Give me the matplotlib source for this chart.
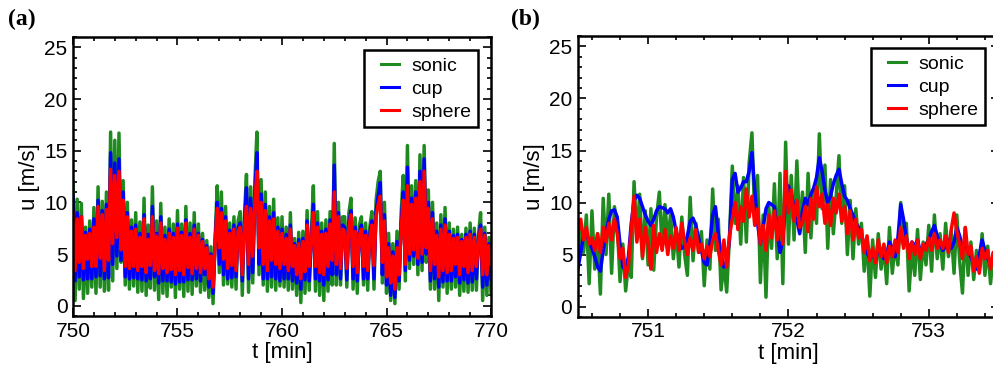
import numpy as np
import matplotlib
matplotlib.use("Agg")
import matplotlib.pyplot as plt
from matplotlib.ticker import MultipleLocator

# ---- panel (a): 750-770 min, one sample every 0.1 min ----
t_a_start, t_a_step = 750.0, 0.1
sonic_a = [
    12.0, 0.5, 10.3, 1.6, 9.9, 0.7, 7.6, 1.2, 8.2, 1.8,
    9.5, 1.2, 11.5, 1.8, 10.1, 1.4, 11.0, 1.5, 16.8, 2.4,
    16.0, 3.6, 16.7, 4.2, 12.1, 2.0, 10.0, 1.6, 8.3, 1.9,
    9.0, 1.3, 8.1, 1.4, 10.4, 1.0, 7.8, 1.7, 11.5, 1.5,
    8.2, 0.6, 9.9, 1.2, 7.6, 0.9, 8.4, 1.8, 7.9, 0.8,
    9.2, 1.6, 7.9, 0.9, 9.6, 1.4, 8.0, 1.1, 9.0, 1.9,
    7.9, 1.3, 7.0, 1.5, 6.3, 0.8, 5.7, 0.2, 6.5, 11.6,
    3.2, 11.0, 2.0, 9.6, 2.1, 8.0, 1.8, 8.6, 1.6, 8.2,
    9.1, 1.0, 8.6, 12.7, 1.3, 11.5, 2.2, 12.0, 16.8, 3.0,
    12.2, 2.0, 11.0, 1.4, 9.6, 1.8, 10.3, 1.5, 8.5, 1.9,
    8.6, 1.8, 7.6, 1.5, 9.0, 1.6, 6.5, 1.0, 7.1, 0.3,
    7.2, 1.2, 9.2, 1.5, 6.8, 11.6, 1.4, 9.1, 1.0, 8.0,
    0.5, 8.3, 1.4, 9.1, 2.0, 15.7, 2.0, 10.0, 2.0, 8.6,
    8.6, 1.8, 9.0, 10.4, 1.6, 8.5, 1.2, 7.8, 8.6, 2.0,
    8.0, 1.5, 7.6, 9.1, 1.6, 10.2, 12.0, 13.0, 2.2, 10.0,
    1.2, 7.0, 0.5, 6.0, 0.2, 7.2, 1.6, 9.0, 12.6, 2.4,
    15.5, 3.6, 11.6, 4.0, 12.1, 3.0, 14.6, 3.4, 15.5, 4.2,
    11.2, 1.6, 10.0, 1.6, 8.0, 0.5, 8.8, 1.8, 9.5, 1.2,
    8.0, 1.6, 7.4, 1.8, 7.6, 1.0, 6.9, 1.4, 7.5, 1.3,
    8.0, 1.5, 7.5, 1.5, 6.9, 9.0, 0.5, 7.6, 1.0, 6.6,
    1.2,
]
cup_a = [
    10.6, 2.4, 9.0, 2.8, 8.6, 2.5, 7.1, 2.6, 7.4, 2.6,
    8.4, 2.8, 10.2, 2.9, 9.2, 2.6, 9.8, 2.7, 14.8, 4.0,
    13.8, 4.8, 14.2, 4.4, 11.0, 2.8, 9.0, 2.6, 7.6, 2.7,
    7.8, 2.6, 7.0, 2.5, 8.8, 2.4, 6.9, 2.6, 9.6, 2.8,
    7.0, 2.2, 8.6, 2.4, 6.8, 2.4, 7.4, 2.3, 7.0, 2.1,
    7.9, 2.3, 7.1, 2.3, 8.3, 2.5, 7.0, 2.5, 7.8, 2.6,
    7.0, 2.4, 6.4, 3.0, 5.8, 1.8, 5.0, 1.2, 6.2, 10.0,
    4.0, 9.4, 3.0, 8.6, 2.6, 7.3, 2.7, 7.8, 2.8, 7.5,
    8.0, 2.4, 7.9, 11.4, 2.6, 10.4, 3.2, 10.8, 14.8, 4.0,
    10.8, 2.6, 9.8, 2.6, 8.6, 2.8, 9.0, 2.6, 7.6, 2.4,
    7.4, 2.6, 6.9, 2.6, 7.8, 2.4, 6.0, 2.2, 6.4, 1.6,
    6.5, 2.5, 8.2, 2.4, 6.2, 9.8, 2.6, 8.0, 2.4, 7.2,
    2.0, 7.4, 2.5, 8.3, 3.0, 13.6, 3.0, 9.0, 2.6, 7.8,
    7.6, 2.5, 8.0, 9.2, 2.6, 7.6, 2.4, 7.0, 7.8, 2.6,
    7.2, 2.6, 6.9, 8.2, 2.6, 9.2, 10.6, 11.9, 3.0, 8.8,
    2.0, 6.0, 1.0, 5.2, 0.8, 6.2, 2.4, 8.0, 11.0, 3.4,
    13.4, 4.4, 10.4, 4.8, 11.0, 4.0, 13.0, 4.2, 14.2, 5.0,
    10.0, 2.4, 9.0, 2.6, 7.2, 1.8, 7.8, 2.3, 8.4, 2.4,
    7.2, 2.4, 6.8, 2.8, 6.9, 2.2, 6.4, 2.5, 6.9, 2.2,
    7.2, 2.3, 6.9, 2.6, 6.4, 7.8, 1.8, 7.0, 2.0, 6.0,
    2.6,
]
sphere_a = [
    9.0, 3.4, 8.4, 4.2, 8.6, 3.6, 6.8, 4.5, 7.0, 3.8,
    7.6, 3.8, 9.6, 4.6, 8.8, 3.4, 9.3, 4.4, 13.2, 6.0,
    12.6, 6.6, 13.0, 5.4, 10.2, 3.8, 8.6, 3.6, 7.2, 3.8,
    7.4, 3.4, 6.6, 3.8, 8.4, 3.2, 6.4, 3.9, 8.6, 3.4,
    6.7, 3.1, 8.0, 3.6, 6.4, 3.2, 7.0, 3.5, 6.6, 3.0,
    7.5, 3.4, 6.8, 3.0, 8.0, 3.7, 6.6, 3.1, 7.4, 3.6,
    6.8, 3.2, 6.2, 3.6, 5.6, 2.6, 4.8, 1.8, 6.0, 9.4,
    5.6, 9.0, 4.5, 8.2, 3.6, 7.0, 3.9, 7.4, 3.4, 7.2,
    7.6, 3.0, 7.5, 9.6, 4.0, 9.4, 4.8, 10.0, 13.0, 5.6,
    10.0, 4.0, 9.2, 3.4, 8.2, 4.4, 8.4, 4.0, 7.2, 3.6,
    7.0, 4.0, 6.5, 3.4, 7.4, 3.8, 5.8, 3.0, 6.0, 2.6,
    6.2, 3.3, 7.8, 3.8, 6.0, 9.0, 3.8, 7.6, 3.2, 6.9,
    3.0, 7.0, 3.8, 7.9, 4.4, 11.0, 4.0, 8.6, 3.6, 7.4,
    7.2, 3.6, 7.6, 8.8, 3.8, 7.2, 3.2, 6.8, 7.4, 3.8,
    6.8, 3.4, 6.6, 7.8, 3.9, 8.6, 9.8, 10.6, 4.2, 8.2,
    2.8, 5.6, 2.2, 4.8, 1.6, 5.6, 3.0, 7.4, 10.2, 4.0,
    11.6, 5.0, 9.8, 5.4, 10.4, 4.6, 12.0, 5.0, 13.0, 5.6,
    9.4, 3.4, 8.4, 4.0, 6.8, 2.8, 7.4, 3.4, 7.8, 3.2,
    6.9, 3.4, 6.5, 4.0, 6.6, 3.0, 6.2, 3.8, 6.6, 3.2,
    6.9, 3.4, 6.6, 3.8, 6.2, 7.4, 3.0, 6.8, 3.0, 5.8,
    4.0,
]

# ---- panel (b): 750.5-753.5 min, one sample every 0.02 min ----
t_b_start, t_b_step = 750.5, 0.02
sonic_b = [
    4.0, 7.8, 5.2, 8.8, 2.2,
    9.2, 3.6, 7.0, 1.2, 10.4,
    5.0, 10.8, 3.2, 9.6, 8.0,
    2.4, 6.0, 1.5, 4.2, 2.8,
    12.0, 6.5, 10.8, 4.6, 9.2,
    4.0, 9.4, 3.5, 8.6, 11.0,
    5.6, 9.8, 6.4, 8.8, 4.6,
    7.4, 3.8, 8.6, 5.0, 3.0,
    10.5, 4.4, 8.0, 5.2, 7.2,
    2.0, 6.4, 3.6, 11.3, 5.4,
    8.4, 1.6, 4.2, 1.4, 6.8,
    13.5, 8.0, 11.6, 6.0, 12.4,
    6.2, 13.8, 16.7, 8.4, 12.6,
    2.3, 8.8, 0.9, 9.6, 5.6,
    11.8, 4.6, 12.8, 2.2, 15.8,
    6.0, 12.6, 6.4, 14.0, 7.2,
    11.0, 5.2, 12.8, 6.6, 11.4,
    8.0, 16.6, 9.4, 13.6, 5.6,
    12.2, 7.0, 10.6, 14.5, 8.0,
    11.6, 5.0, 10.2, 4.6, 9.4,
    6.0, 8.0, 3.4, 6.6, 1.0,
    6.4, 2.8, 7.0, 3.6, 5.8,
    2.2, 7.6, 3.2, 6.0, 4.0,
    10.0, 6.4, 8.0, 1.5, 5.8,
    3.0, 7.4, 2.6, 6.2, 4.0,
    7.8, 3.4, 8.8, 4.6, 7.0,
    3.6, 8.0, 4.8, 7.2, 3.2,
    8.8, 4.4, 1.3, 7.6, 3.0,
    6.2, 2.6, 5.4, 3.4, 7.0,
    3.0, 5.8, 2.2, 5.2, 3.8,
    4.4,
]
cup_b = [
    3.6, 5.2, 6.8, 7.0, 6.2,
    5.6, 4.8, 3.8, 3.4, 5.4,
    7.2, 8.4, 9.2, 9.3, 8.6,
    6.0, 3.8, 3.6, 4.8, 8.0,
    10.2, 10.7, 10.4, 9.6, 8.8,
    8.2, 7.8, 8.4, 9.2, 9.6,
    9.5, 9.4, 9.0, 9.4, 8.6,
    7.2, 6.2, 5.6, 5.8, 6.8,
    8.2, 8.5, 7.8, 6.6, 5.4,
    4.2, 4.0, 6.0, 8.8, 9.6,
    7.0, 5.0, 3.8, 4.2, 6.4,
    12.2, 12.8, 11.0, 11.4, 12.0,
    12.0, 13.0, 14.8, 11.2, 8.0,
    6.0, 7.6, 9.4, 10.0, 9.8,
    9.6, 7.2, 5.2, 6.4, 10.6,
    11.6, 10.8, 9.6, 8.4, 7.0,
    9.2, 10.4, 9.8, 10.8, 11.4,
    12.4, 14.3, 13.0, 11.2, 10.0,
    10.6, 11.8, 12.6, 13.2, 11.8,
    10.6, 10.2, 9.4, 8.8, 8.0,
    7.6, 6.8, 6.0, 5.2, 4.6,
    5.0, 4.4, 5.6, 5.2, 4.6,
    5.0, 6.2, 5.6, 4.8, 6.6,
    9.8, 8.4, 6.6, 5.4, 6.2,
    5.8, 6.4, 5.2, 5.6, 6.0,
    6.4, 7.2, 7.8, 6.8, 6.0,
    5.4, 5.8, 6.4, 5.6, 6.2,
    7.6, 6.8, 5.6, 6.2, 5.2,
    4.8, 4.0, 3.6, 5.0, 6.4,
    5.4, 4.6, 4.2, 4.8, 4.6,
    4.2,
]
sphere_b = [
    7.2, 8.4, 6.4, 7.6, 6.0,
    6.6, 5.4, 7.0, 5.2, 7.6,
    6.2, 8.0, 6.4, 8.4, 7.0,
    4.6, 5.6, 2.8, 4.0, 7.4,
    10.6, 6.2, 8.4, 4.8, 7.6,
    6.0, 3.6, 7.8, 5.2, 7.0,
    5.4, 7.4, 5.0, 6.8, 5.6,
    7.6, 5.4, 8.0, 6.2, 5.0,
    6.6, 5.4, 7.4, 5.2, 6.0,
    4.6, 5.8, 4.8, 6.4, 7.0,
    5.4, 4.0, 6.4, 3.8, 6.8,
    8.4, 10.0, 7.4, 9.6, 8.2,
    11.3, 8.6, 10.6, 7.8, 9.4,
    6.0, 7.8, 5.4, 8.8, 6.6,
    9.2, 6.4, 8.6, 6.0, 13.0,
    9.0, 11.2, 8.2, 10.2, 7.6,
    8.0, 9.6, 7.2, 10.4, 8.4,
    11.5, 9.6, 10.8, 8.0, 9.8,
    7.8, 10.4, 9.0, 10.8, 8.2,
    9.6, 7.0, 9.2, 6.4, 8.4,
    6.6, 7.4, 5.2, 6.8, 4.4,
    5.6, 4.2, 6.4, 4.8, 6.0,
    4.2, 5.8, 4.8, 6.4, 5.2,
    7.6, 5.6, 6.8, 4.6, 6.2,
    5.0, 6.4, 4.6, 6.0, 5.4,
    6.6, 5.4, 7.0, 5.6, 6.4,
    5.6, 6.8, 5.2, 7.4, 9.0,
    7.2, 6.0, 4.6, 7.6, 5.0,
    5.8, 3.4, 4.8, 3.2, 5.6,
    4.6, 5.4, 3.6, 5.2, 4.8,
    5.0,
]

series_names = ["sonic", "cup", "sphere"]
series_colors = ["#1f8a1f", "#0000ff", "#ff0000"]

plt.rcParams["font.family"] = ["Liberation Sans", "DejaVu Sans"]

fig = plt.figure(figsize=(9.93, 3.72), dpi=100)
ax_a = fig.add_axes([0.0735, 0.1505, 0.421, 0.750])
ax_b = fig.add_axes([0.582, 0.148, 0.424, 0.755])


def draw_panel(ax, t0, dt, data, xlim, xmajor, xminor, lw, legend_anchor):
    n = len(data[0])
    t = t0 + dt * np.arange(n)
    for vals, name, col in zip(data, series_names, series_colors):
        ax.plot(t, vals, color=col, lw=lw, label=name)
    ax.set_xlim(*xlim)
    ax.set_ylim(-1, 26)
    ax.xaxis.set_major_locator(MultipleLocator(xmajor))
    ax.xaxis.set_minor_locator(MultipleLocator(xminor))
    ax.yaxis.set_major_locator(MultipleLocator(5))
    ax.yaxis.set_minor_locator(MultipleLocator(1))
    ax.tick_params(which="both", direction="in", top=True, right=True,
                   width=1.2, labelsize=15, colors="black")
    ax.tick_params(which="major", length=6, pad=4)
    ax.tick_params(which="minor", length=3)
    for s in ax.spines.values():
        s.set_linewidth(1.8)
    ax.set_xlabel("t [min]", fontsize=16, labelpad=1)
    ax.set_ylabel("u [m/s]", fontsize=16, labelpad=3)
    leg = ax.legend(loc="upper right", bbox_to_anchor=legend_anchor,
                    borderaxespad=0, fontsize=14, handlelength=1.45,
                    handletextpad=0.65, labelspacing=0.28, borderpad=0.35,
                    fancybox=False, framealpha=1, edgecolor="black")
    leg.get_frame().set_linewidth(1.8)
    # short legend strokes, inset from the left of their handle boxes
    for h in leg.get_lines():
        h.set_linewidth(2.2)
        xd = np.asarray(h.get_xdata(), dtype=float)
        yd = np.asarray(h.get_ydata(), dtype=float)
        x0, x1 = xd[0], xd[-1]
        h.set_data([x0 + 0.38 * (x1 - x0), x1], [yd[0], yd[-1]])


draw_panel(ax_a, t_a_start, t_a_step, [sonic_a, cup_a, sphere_a],
           (750, 770), 5, 1, 2.5, (0.969, 0.953))
draw_panel(ax_b, t_b_start, t_b_step, [sonic_b, cup_b, sphere_b],
           (750.5, 753.5), 1, 0.2, 2.5, (0.967, 0.957))

fig.text(0.008, 0.948, "(a)", fontsize=17, fontweight="bold",
         family="Liberation Serif", va="center", ha="left")
fig.text(0.515, 0.948, "(b)", fontsize=17, fontweight="bold",
         family="Liberation Serif", va="center", ha="left")

fig.savefig("out.png", dpi=100)
